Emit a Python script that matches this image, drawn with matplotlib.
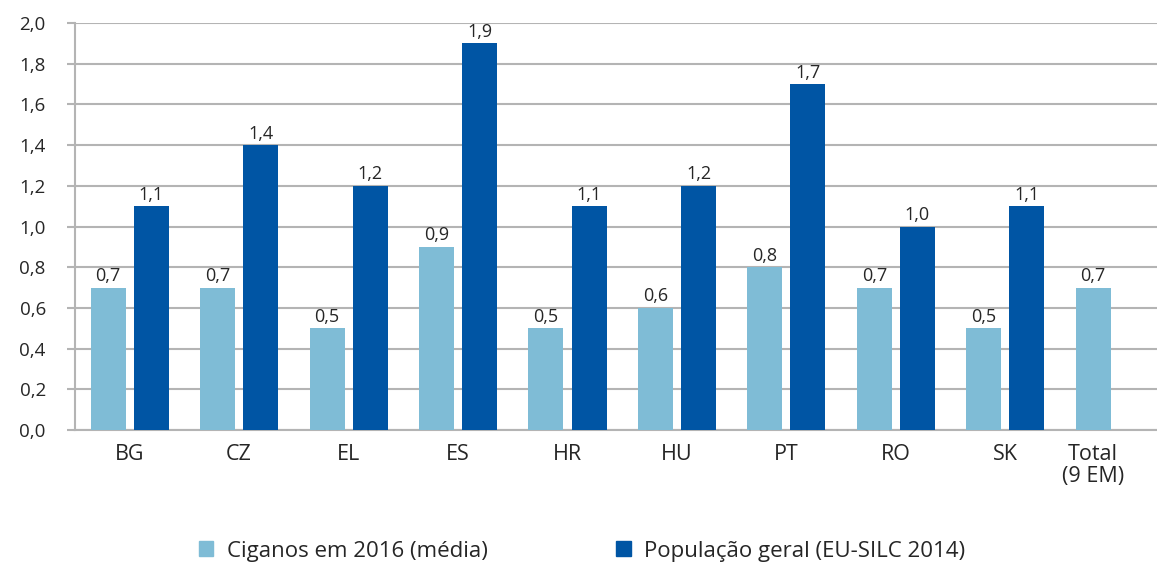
import matplotlib
matplotlib.use("Agg")
import matplotlib.pyplot as plt
from matplotlib.patches import Patch
import numpy as np

categories = ["BG", "CZ", "EL", "ES", "HR", "HU", "PT", "RO", "SK", "Total\n(9 EM)"]
ciganos = [0.7, 0.7, 0.5, 0.9, 0.5, 0.6, 0.8, 0.7, 0.5, 0.7]
populacao = [1.1, 1.4, 1.2, 1.9, 1.1, 1.2, 1.7, 1.0, 1.1, None]
series_names = ["Ciganos em 2016 (média)", "População geral (EU-SILC 2014)"]
yticks = [0.0, 0.2, 0.4, 0.6, 0.8, 1.0, 1.2, 1.4, 1.6, 1.8, 2.0]

c_light = "#7fbcd6"
c_dark = "#0055a4"
grid_c = "#b4b4b4"
txt_c = "#262626"

plt.rcParams['font.family'] = ['Open Sans', 'DejaVu Sans']

W, H = 1157, 563
fig = plt.figure(figsize=(W / 100, H / 100), dpi=100)
left = 75 / W
bottom = (H - 430) / H
top = (H - 23) / H
width = (1169.5 - 75) / W
ax = fig.add_axes([left, bottom, width, top - bottom])

x = np.arange(len(categories))
bw = 0.32
off = 0.197

fmt = lambda v: f"{v:.1f}".replace(".", ",")

light_x = []
for i, v in enumerate(ciganos):
    xi = x[i] - off
    light_x.append(xi)
    ax.bar(xi, v, width=bw, color=c_light, zorder=3)
    ax.text(xi, v + 0.012, fmt(v), ha="center", va="bottom", fontsize=13, color=txt_c, zorder=4)
for i, v in enumerate(populacao):
    if v is None:
        continue
    xi = x[i] + off
    ax.bar(xi, v, width=bw, color=c_dark, zorder=3)
    ax.text(xi, v + 0.012, fmt(v), ha="center", va="bottom", fontsize=13, color=txt_c, zorder=4)

ax.set_xlim(-0.5, len(categories) - 0.5)
ax.set_ylim(0, 2.0)
ax.set_yticks(yticks)
ax.set_yticklabels([fmt(t) for t in yticks], fontsize=13.5, color=txt_c)
ax.yaxis.grid(True, color=grid_c, linewidth=1.5, zorder=0)
ax.tick_params(axis="y", length=6, width=1.5, color=grid_c, pad=15)

tick_pos = list(x[:-1]) + [light_x[-1]]
ax.set_xticks(tick_pos)
ax.set_xticklabels(categories, fontsize=15.5, color=txt_c, linespacing=1.05)
ax.tick_params(axis="x", length=0, pad=10)

for s in ["top", "right"]:
    ax.spines[s].set_visible(False)
ax.spines["left"].set_color(grid_c)
ax.spines["left"].set_linewidth(1.5)
ax.spines["bottom"].set_color(grid_c)
ax.spines["bottom"].set_linewidth(1.5)

handles = [Patch(color=c_light, label=series_names[0]), Patch(color=c_dark, label=series_names[1])]
fig.legend(handles=handles, loc="center", bbox_to_anchor=(582 / W, 1 - 551 / H), ncol=2,
           frameon=False, fontsize=16, handlelength=0.65, handleheight=0.65,
           handletextpad=0.6, columnspacing=5.8, labelcolor=txt_c)

fig.savefig("out.png", dpi=100)
